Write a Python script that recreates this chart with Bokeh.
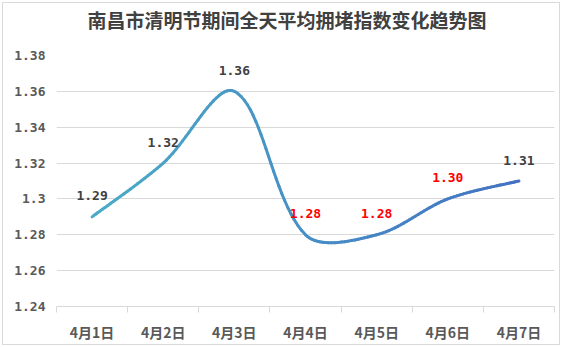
import numpy as np
from bokeh.plotting import figure
from bokeh.models import Range1d, FixedTicker, ColumnDataSource, Title
from bokeh.core.properties import value
from bokeh.embed import file_html
from bokeh.resources import INLINE

# ---- data ----
title_text = "南昌市清明节期间全天平均拥堵指数变化趋势图"
dates = ["4月1日", "4月2日", "4月3日", "4月4日", "4月5日", "4月6日", "4月7日"]
index_values = [1.29, 1.32, 1.36, 1.28, 1.28, 1.30, 1.31]
y_ticks = [1.24, 1.26, 1.28, 1.30, 1.32, 1.34, 1.36, 1.38]
y_tick_labels = ["1.24", "1.26", "1.28", "1.3", "1.32", "1.34", "1.36", "1.38"]
label_colors = ["#404040", "#404040", "#404040", "#ff0000", "#ff0000", "#ff0000", "#404040"]

W, H = 558, 343
ML, MR, MT, MB = 53, 7, 52, 40

p = figure(width=W, height=H, x_range=Range1d(-0.5, len(dates) - 0.5),
           y_range=Range1d(y_ticks[0], y_ticks[-1]),
           output_backend="svg", toolbar_location=None,
           min_border_left=ML, min_border_right=MR, min_border_top=MT, min_border_bottom=MB)
p.styles = {"border": "1px solid #d9d9d9", "margin-left": "2px", "margin-top": "2px"}
p.outline_line_color = None
p.background_fill_color = "white"
p.border_fill_color = "white"

fw = W - ML - MR
fh = H - MT - MB

# spacer between frame and title
p.add_layout(Title(text=" ", text_font_size="9px", standoff=11), "above")

# title
p.title.text = title_text
p.title.align = "left"
p.title.offset = 31
p.title.standoff = 0
p.title.text_font = "Noto Sans CJK SC"
p.title.text_font_size = "19px"
p.title.text_font_style = "bold"
p.title.text_color = "#404040"

# x axis
xs = list(range(len(dates)))
p.xaxis.ticker = FixedTicker(ticks=xs, minor_ticks=[i - 0.5 for i in range(len(dates) + 1)])
p.xaxis.major_label_overrides = {i: d for i, d in enumerate(dates)}
p.xaxis.major_tick_line_color = None
p.xaxis.major_tick_out = 0
p.xaxis.major_tick_in = 0
p.xaxis.minor_tick_line_color = "#d9d9d9"
p.xaxis.minor_tick_out = 6
p.xaxis.minor_tick_in = 0
p.xaxis.axis_line_color = "#d9d9d9"
p.xaxis.major_label_standoff = 9
p.xaxis.major_label_text_font = "Noto Sans CJK SC"
p.xaxis.major_label_text_font_size = "14px"
p.xaxis.major_label_text_font_style = "bold"
p.xaxis.major_label_text_color = "#595959"

# y axis
p.yaxis.ticker = FixedTicker(ticks=y_ticks)
p.yaxis.major_label_overrides = {t: l for t, l in zip(y_ticks, y_tick_labels)}
p.yaxis.axis_line_color = None
p.yaxis.major_tick_line_color = None
p.yaxis.minor_tick_line_color = None
p.yaxis.major_tick_out = 0
p.yaxis.major_tick_in = 0
p.yaxis.major_label_standoff = 11
p.yaxis.major_label_text_font = "DejaVu Sans Mono"
p.yaxis.major_label_text_font_size = "13px"
p.yaxis.major_label_text_font_style = "bold"
p.yaxis.major_label_text_color = "#595959"

p.xgrid.grid_line_color = None
p.ygrid.grid_line_color = "#d9d9d9"
p.ygrid.ticker = FixedTicker(ticks=y_ticks)

# ---- smoothed line (Excel-like bezier smoothing) ----
sx = fw / len(dates)
sy = fh / (y_ticks[-1] - y_ticks[0])
P = np.array([[x, v] for x, v in zip(xs, index_values)], dtype=float)
n = len(P)

def dist(a, b):
    return np.hypot((a[0] - b[0]) * sx, (a[1] - b[1]) * sy)

px, py = [], []
for i in range(n - 1):
    p0 = P[i - 1] if i > 0 else P[i]
    p1 = P[i]
    p2 = P[i + 1]
    p3 = P[i + 2] if i + 2 < n else P[i + 1]
    d01 = dist(p0, p1) if i > 0 else dist(p1, p2)
    d12 = dist(p1, p2)
    d23 = dist(p2, p3) if i + 2 < n else dist(p1, p2)
    c1 = p1 + (p2 - p0) * (d12 / (d01 + d12)) / 3.0
    c2 = p2 - (p3 - p1) * (d12 / (d12 + d23)) / 3.0
    ts = np.linspace(0, 1, 25)
    if i > 0:
        ts = ts[1:]
    for t in ts:
        b = ((1 - t) ** 3) * p1 + 3 * ((1 - t) ** 2) * t * c1 + 3 * (1 - t) * t * t * c2 + t ** 3 * p2
        px.append(b[0]); py.append(b[1])

px = np.array(px); py = np.array(py)
c_start = np.array([75, 172, 198])
c_end = np.array([68, 114, 196])
cols = []
for k in range(len(px) - 1):
    f = ((px[k] + px[k + 1]) / 2) / (n - 1)
    c = c_start + (c_end - c_start) * f
    cols.append("#%02x%02x%02x" % tuple(int(round(v)) for v in c))

seg = ColumnDataSource(dict(x0=px[:-1], y0=py[:-1], x1=px[1:], y1=py[1:], c=cols))
p.segment("x0", "y0", "x1", "y1", source=seg, line_color="c", line_width=3, line_cap="round")

# ---- data labels ----
lab = ColumnDataSource(dict(x=xs, y=index_values, t=["%.2f" % v for v in index_values], c=label_colors))
p.text("x", "y", text="t", source=lab, text_color="c", text_align="center", text_baseline="middle",
       y_offset=-21, text_font=value("DejaVu Sans Mono"), text_font_size="13px", text_font_style="bold")

open("out.html", "w").write(file_html(p, INLINE))
